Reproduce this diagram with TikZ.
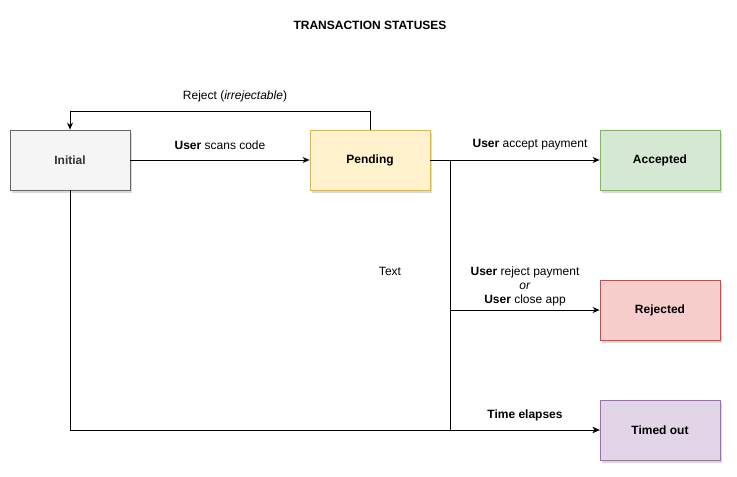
\documentclass[tikz,border=0pt]{standalone}
\usepackage{fontspec}
\setmainfont{Liberation Sans}
\usetikzlibrary{arrows.meta,positioning}
\definecolor{inifill}{HTML}{F5F5F5}\definecolor{inidraw}{HTML}{666666}\definecolor{initext}{HTML}{333333}
\definecolor{penfill}{HTML}{FFF2CC}\definecolor{pendraw}{HTML}{D6B656}
\definecolor{accfill}{HTML}{D5E8D4}\definecolor{accdraw}{HTML}{82B366}
\definecolor{rejfill}{HTML}{F8CECC}\definecolor{rejdraw}{HTML}{B85450}
\definecolor{timfill}{HTML}{E1D5E7}\definecolor{timdraw}{HTML}{9673A6}
\tikzset{
  state/.style={draw, line width=0.8pt, minimum width=120pt, minimum height=60pt, inner sep=0pt,
    font=\fontsize{12}{14}\selectfont\bfseries,
    preaction={fill=black, opacity=0.15, transform canvas={xshift=2pt,yshift=-3pt}}},
  conn/.style={line width=0.9pt, -{Stealth[length=7pt,width=6pt]}},
  lbl/.style={font=\fontsize{12}{14}\selectfont, inner sep=0pt, align=center}
}
\begin{document}
\begin{tikzpicture}[x=1pt,y=-1pt]
\useasboundingbox (0,0) rectangle (737,477);
\node[lbl, font=\fontsize{12}{14}\selectfont\bfseries] (title) at (370,25) {TRANSACTION STATUSES};
\node[state, fill=inifill, draw=inidraw, text=initext] (ini) at (70,160) {Initial};
\node[state, fill=penfill, draw=pendraw] (pen) at (370,160) {Pending};
\node[state, fill=accfill, draw=accdraw] (acc) at (660,160) {Accepted};
\node[state, fill=rejfill, draw=rejdraw] (rej) at (660,310) {Rejected};
\node[state, fill=timfill, draw=timdraw] (tim) at (660,430) {Timed out};
\coordinate (split) at (450,160);
\coordinate (topy) at (0,111);
% edges
\draw[conn] (ini.east) -- (pen.west);
\draw[conn] (pen.north) -- (pen.north |- topy) -- (ini.north |- topy) -- (ini.north);
\draw[conn] (pen.east) -- (acc.west);
\draw[conn] (pen.east) -- (split) -- (split |- rej.west) -- (rej.west);
\draw[conn] (pen.east) -- (split) -- (split |- tim.west) -- (tim.west);
\draw[conn] (ini.south) -- (ini.south |- tim.west) -- (tim.west);
% labels
\node[lbl] (l1) at (220,145) {\textbf{User} scans code};
\node[lbl] (l2) at (235,96) {Reject (\textit{irrejectable})};
\node[lbl] (l3) at (530,145) {\textbf{User} accept payment};
\node[lbl] (l4) at (525,286) {\textbf{User} reject payment\\\textit{or}\\\textbf{User} close app};
\node[lbl] (l5) at (525,415) {\textbf{Time elapses}};
\node[lbl] (l6) at (390,271) {Text};
\end{tikzpicture}
\end{document}
